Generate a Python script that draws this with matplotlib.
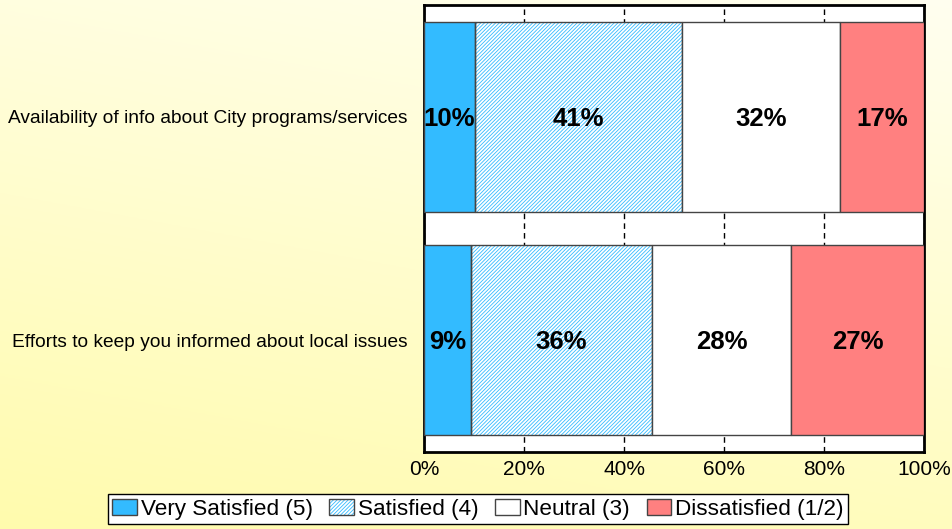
import numpy as np
import matplotlib
matplotlib.use("Agg")
import matplotlib.pyplot as plt
from matplotlib.patches import Patch
from matplotlib.legend_handler import HandlerTuple

plt.rcParams['font.family'] = ['Liberation Sans', 'DejaVu Sans']
plt.rcParams['hatch.linewidth'] = 0.6

categories = ["Availability of info about City programs/services",
              "Efforts to keep you informed about local issues"]
series = ["Very Satisfied (5)", "Satisfied (4)", "Neutral (3)", "Dissatisfied (1/2)"]
very_satisfied = [10.2, 9.4]
satisfied = [41.4, 36.2]
neutral = [31.6, 27.8]
dissatisfied = [16.8, 26.6]
labels = [["10%", "41%", "32%", "17%"], ["9%", "36%", "28%", "27%"]]
xticks = [0, 20, 40, 60, 80, 100]

blue = "#33BBFF"
red = "#FF8080"
edge = "#444444"

fig = plt.figure(figsize=(9.52, 5.29), dpi=100)

# background gradient
bg = fig.add_axes([0, 0, 1, 1], zorder=-10)
yy, xx = np.mgrid[0:1:200j, 0:1:200j]
t = np.clip(0.75 * yy + 0.25 * (1 - xx), 0, 1)
top = np.array([1.0, 1.0, 0.94])
bot = np.array([1.0, 0.985, 0.68])
img = top[None, None, :] * (1 - t[..., None]) + bot[None, None, :] * t[..., None]
bg.imshow(img, aspect='auto', extent=[0, 1, 0, 1])
bg.axis('off')

ax = fig.add_axes([424 / 952, 1 - 452 / 529, 500 / 952, 447 / 529])
ax.set_facecolor('white')

y = np.arange(len(categories))
h = 0.85
data = [very_satisfied, satisfied, neutral, dissatisfied]
left = np.zeros(len(categories))
for i, vals in enumerate(data):
    vals = np.array(vals)
    if i == 1:
        ax.barh(y, vals, h, left=left, color='white', edgecolor=blue,
                hatch='/' * 9, linewidth=0, zorder=2)
        ax.barh(y, vals, h, left=left, color='none', edgecolor=edge,
                linewidth=1, zorder=3)
    else:
        fc = [blue, None, 'white', red][i]
        ax.barh(y, vals, h, left=left, color=fc, edgecolor=edge,
                linewidth=1, zorder=3)
    for j in range(len(categories)):
        ax.text(left[j] + vals[j] / 2, y[j] + 0.01, labels[j][i], ha='center',
                va='center', fontsize=18.5, fontweight='bold', zorder=5)
    left += vals

ax.set_xlim(0, 100)
ax.set_ylim(1.5, -0.5)
ax.set_xticks(xticks)
ax.set_xticklabels([f"{v}%" for v in xticks], fontsize=15)
ax.set_yticks(y)
ax.set_yticklabels(categories, fontsize=13.8)
ax.tick_params(axis='both', length=0)
ax.tick_params(axis='y', pad=12)
ax.tick_params(axis='x', pad=6)
ax.xaxis.grid(True, color='black', linestyle=(0, (4, 3)), linewidth=1)
ax.set_axisbelow(True)
for s in ax.spines.values():
    s.set_linewidth(2)
    s.set_color('black')

handles = [Patch(facecolor=blue, edgecolor=edge),
           (Patch(facecolor='white', edgecolor=blue, hatch='/' * 9, linewidth=0),
            Patch(facecolor='none', edgecolor=edge)),
           Patch(facecolor='white', edgecolor=edge),
           Patch(facecolor=red, edgecolor=edge)]
leg = fig.legend(handles, series, loc='center', bbox_to_anchor=(0.502, 0.037),
                 ncol=4, fontsize=16.2, frameon=True, fancybox=False,
                 edgecolor='black', framealpha=1, borderpad=0.2,
                 handlelength=1.1, handleheight=0.75, handletextpad=0.15,
                 columnspacing=0.75, borderaxespad=0,
                 handler_map={tuple: HandlerTuple(ndivide=1)})
leg.get_frame().set_linewidth(1)

fig.savefig("out.png", dpi=100)
